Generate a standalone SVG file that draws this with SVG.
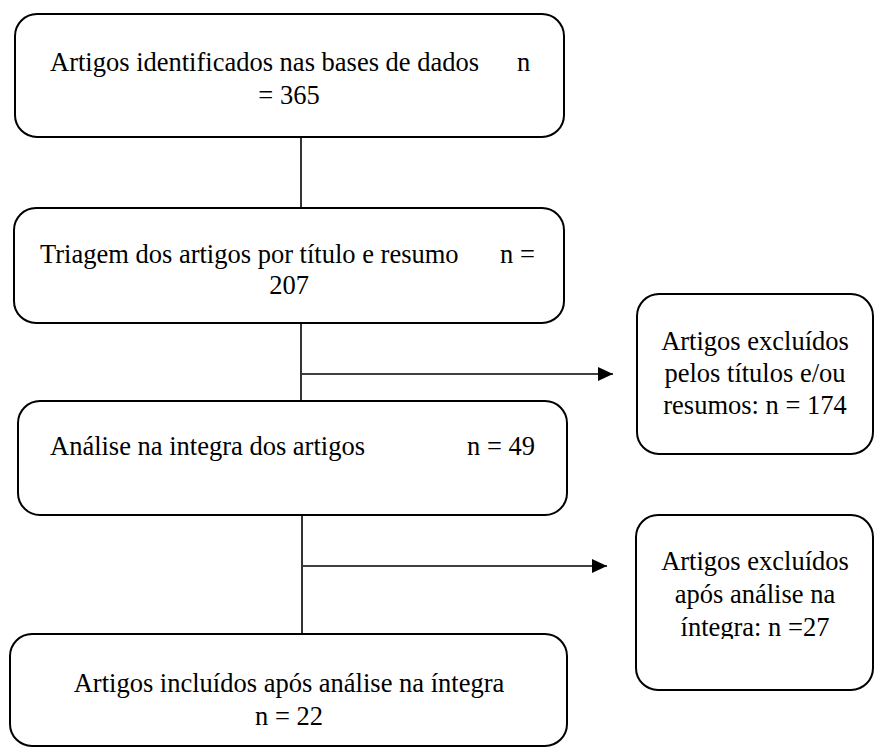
<svg xmlns="http://www.w3.org/2000/svg" width="874" height="747" viewBox="0 0 874 747" font-family="'Liberation Serif', 'Times New Roman', serif">
<style>
.box{fill:#fff;stroke:#000;stroke-width:2}
.t{font-family:'Liberation Serif','Times New Roman',serif;font-size:26.5px;fill:#000}
.c{text-anchor:middle}
.e{text-anchor:end}
.ln{stroke:#000;stroke-width:1.6;fill:none}
</style>
<defs>
<marker id="ah" markerWidth="16" markerHeight="14" refX="15" refY="7" orient="auto" markerUnits="userSpaceOnUse">
<path d="M0,0 L15,7 L0,14 Z" fill="#000"/>
</marker>
<clipPath id="clip6"><rect x="640" y="520" width="230" height="119"/></clipPath>
</defs>
<g id="connectors">
<line class="ln" x1="301" y1="137" x2="301" y2="208"/>
<line class="ln" x1="301" y1="323" x2="301" y2="401"/>
<line class="ln" x1="302" y1="374" x2="613" y2="374" marker-end="url(#ah)"/>
<line class="ln" x1="302" y1="515" x2="302" y2="634"/>
<line class="ln" x1="303" y1="566" x2="607" y2="566" marker-end="url(#ah)"/>
</g>
<g id="n1">
<rect class="box" x="15" y="14" width="549" height="123" rx="22"/>
<text class="t" x="50" y="71">Artigos identificados nas bases de dados</text>
<text class="t" x="517" y="71">n</text>
<text class="t c" x="289" y="104">= 365</text>
</g>
<g id="n2">
<rect class="box" x="14" y="208" width="550" height="115" rx="22"/>
<text class="t" x="40" y="263">Triagem dos artigos por título e resumo</text>
<text class="t" x="500" y="263">n =</text>
<text class="t c" x="289" y="294">207</text>
</g>
<g id="n3">
<rect class="box" x="18" y="401" width="549" height="114" rx="22"/>
<text class="t" x="50" y="455">Análise na integra dos artigos</text>
<text class="t e" x="535" y="455">n = 49</text>
</g>
<g id="n4">
<rect class="box" x="10" y="634" width="557" height="112" rx="22"/>
<text class="t c" x="289" y="692">Artigos incluídos após análise na íntegra</text>
<text class="t c" x="289" y="725">n = 22</text>
</g>
<g id="n5">
<rect class="box" x="637" y="294" width="236" height="160" rx="22"/>
<text class="t c" x="755" y="350">Artigos excluídos</text>
<text class="t c" x="755" y="382">pelos títulos e/ou</text>
<text class="t c" x="755" y="414">resumos: n = 174</text>
</g>
<g id="n6">
<rect class="box" x="636" y="515" width="237" height="175" rx="22"/>
<g clip-path="url(#clip6)">
<text class="t c" x="755" y="570">Artigos excluídos</text>
<text class="t c" x="755" y="603">após análise na</text>
<text class="t c" x="755" y="636">íntegra: n =27</text>
</g>
</g>
</svg>
